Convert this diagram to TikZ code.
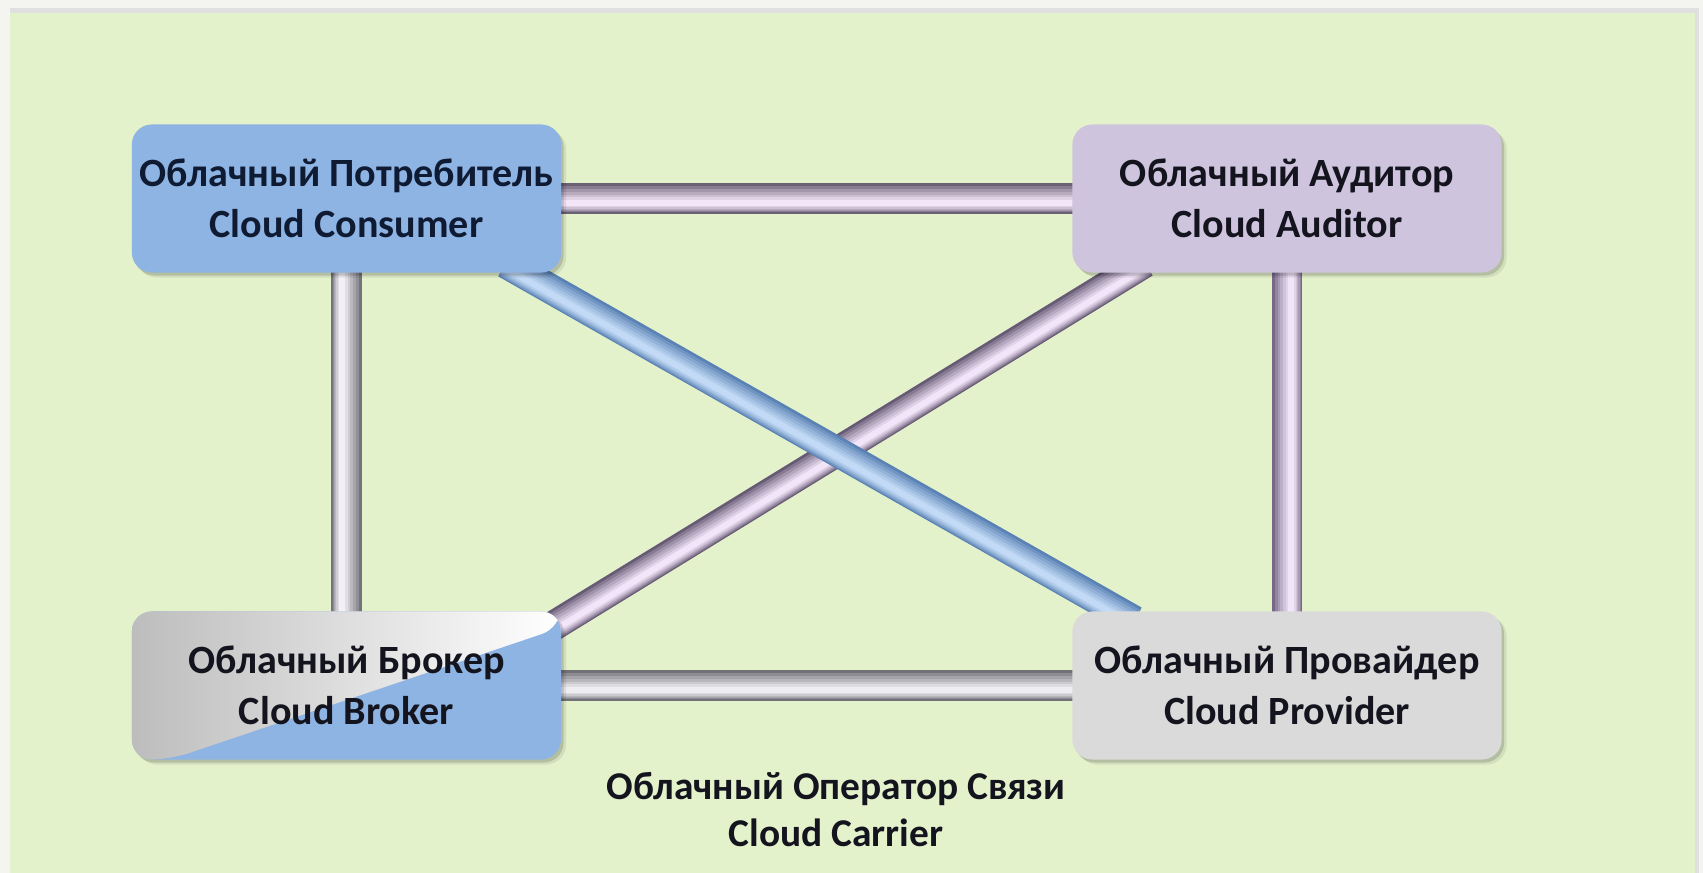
\documentclass[tikz,border=0pt]{standalone}
\usepackage{fontspec}
\setmainfont{Carlito}
\usetikzlibrary{calc,shadows}

% colours
\definecolor{paper}{HTML}{F4F4F1}
\definecolor{meadow}{HTML}{E4F2CC}
\definecolor{ink}{HTML}{14141E}
\definecolor{navyink}{HTML}{0F1A33}
\definecolor{consumerblue}{HTML}{8EB4E3}
\definecolor{auditlilac}{HTML}{CEC4DD}
\definecolor{provgray}{HTML}{DADADA}
\definecolor{brokersilver}{HTML}{BDBDBD}
% tube palettes: edge / highlight
\definecolor{topedge}{HTML}{6C6074}\definecolor{toplite}{HTML}{F4E6F9}
\definecolor{leftedge}{HTML}{74727B}\definecolor{leftlite}{HTML}{F3F1F5}
\definecolor{botedge}{HTML}{727177}\definecolor{botlite}{HTML}{EEEDF1}
\definecolor{rightedge}{HTML}{776888}\definecolor{rightlite}{HTML}{F1E6F9}
\definecolor{purpedge}{HTML}{675A75}\definecolor{purplite}{HTML}{F2E5F9}
\definecolor{blueedge}{HTML}{5A82B4}\definecolor{bluelite}{HTML}{C2DAF5}

\pgfdeclarelayer{canvas}
\pgfdeclarelayer{links}
\pgfsetlayers{canvas,links,main}

% \tube{from}{to}{palette}{side angle}{negated side angle}
% stacked strokes, lighter and narrower towards the highlight side
\newcommand\tube[5]{%
  \foreach \w/\c/\o in {3/0/0, 2.6/22/0.08, 2.2/40/0.16, 1.8/56/0.24,
                        1.4/72/0.32, 1/86/0.38, 0.6/100/0.42}{
    \draw[line width=\w mm, draw=#3lite!\c!#3edge,
          shorten <=-2mm, shorten >=-2mm]
      ($(#1)!\o mm!#4:(#2)$) -- ($(#2)!\o mm!#5:(#1)$);
  }%
}

\begin{document}
\begin{tikzpicture}[x=0.01cm, y=-0.01cm,
  box/.style={rounded corners=2mm, minimum width=4.29cm, minimum height=1.48cm,
    inner sep=0pt, align=center, text=ink,
    font=\bfseries\fontsize{11.4pt}{14.5pt}\selectfont,
    drop shadow={shadow xshift=0.5mm, shadow yshift=-0.5mm,
      opacity=0.08, fill=black},
    drop shadow={shadow xshift=0.25mm, shadow yshift=-0.3mm,
      opacity=0.14, fill=black}},
  caption/.style={align=center, text=ink,
    font=\bfseries\fontsize{11.2pt}{13.4pt}\selectfont}
]
\useasboundingbox (0,0) rectangle (1703,873);

% backdrop
\begin{pgfonlayer}{canvas}
  \fill[paper] (0,0) rectangle (1703,873);
  \fill[black!12] (10,8) rectangle (1699,873);
  \fill[meadow] (10,13) rectangle (1695,873);
\end{pgfonlayer}

% roles
\node[box, fill=consumerblue, text=navyink] (cons) at (346.5,198.5)
  {Облачный Потребитель\\Cloud Consumer};
\node[box, fill=auditlilac] (aud) at (1287,198.5)
  {Облачный Аудитор\\Cloud Auditor};
\node[box, path picture={
    \fill[consumerblue] (path picture bounding box.south west)
      rectangle (path picture bounding box.north east);
    \shade[left color=brokersilver, right color=white]
      (path picture bounding box.north west)
      -- (path picture bounding box.north east)
      -- ($(path picture bounding box.north east)+(0,16)$)
      -- ($(path picture bounding box.south west)+(38,0)$)
      -- (path picture bounding box.south west) -- cycle;
  }] (brok) at (346.5,685.5)
  {Облачный Брокер\\Cloud Broker};
\node[box, fill=provgray] (prov) at (1287,685.5)
  {Облачный Провайдер\\Cloud Provider};

\node[caption] (carrier) at (836,810)
  {Облачный Оператор Связи\\Cloud Carrier};

% diagonal attachment points
\coordinate (bA) at ($(cons.south)!0.82!(cons.south east)$);
\coordinate (bB) at ($(prov.north west)!0.21!(prov.north)$);
\coordinate (pA) at ($(aud.south west)!0.26!(aud.south)$);
\coordinate (pB) at ($(brok.north east)+(-5,13)$);

% connectors
\begin{pgfonlayer}{links}
  \tube{cons.east}{aud.west}{top}{-90}{90}
  \tube{cons.south}{brok.north}{left}{-90}{90}
  \tube{aud.south}{prov.north}{right}{90}{-90}
  \tube{brok.east}{prov.west}{bot}{-90}{90}
  \tube{pA}{pB}{purp}{90}{-90}
  \tube{bA}{bB}{blue}{-90}{90}
\end{pgfonlayer}
\end{tikzpicture}
\end{document}
